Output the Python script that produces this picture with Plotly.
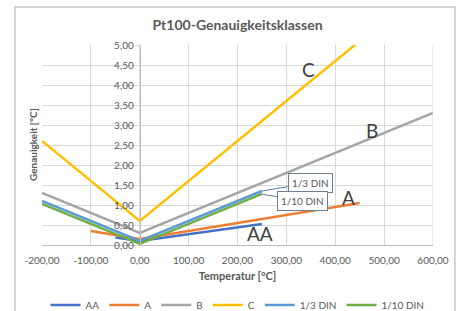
import plotly.graph_objects as go

# ---- data ----
series_names = ["AA", "A", "B", "C", "1/3 DIN", "1/10 DIN"]
aa_t = [-50, 0, 250]
aa_v = [0.185, 0.10, 0.525]
a_t = [-100, 0, 450]
a_v = [0.35, 0.15, 1.05]
b_t = [-200, 0, 600]
b_v = [1.30, 0.30, 3.30]
c_t = [-200, 0, 600]
c_v = [2.60, 0.60, 6.60]
din3_t = [-200, 0, 250]
din3_v = [1.10, 0.10, 1.35]
din10_t = [-200, 0, 250]
din10_v = [1.03, 0.03, 1.28]

x_ticks = [-200, -100, 0, 100, 200, 300, 400, 500, 600]
x_ticklabels = ["-200,00", "-100,00", "0,00", "100,00", "200,00", "300,00", "400,00", "500,00", "600,00"]
y_ticks = [0, 0.5, 1.0, 1.5, 2.0, 2.5, 3.0, 3.5, 4.0, 4.5, 5.0]
y_ticklabels = ["0,00", "0,50", "1,00", "1,50", "2,00", "2,50", "3,00", "3,50", "4,00", "4,50", "5,00"]

colors = ["#4472C4", "#ED7D31", "#A5A5A5", "#FFC000", "#5B9BD5", "#70AD47"]
xs = [aa_t, a_t, b_t, c_t, din3_t, din10_t]
ys = [aa_v, a_v, b_v, c_v, din3_v, din10_v]

fig = go.Figure()
for name, x, y, col in zip(series_names, xs, ys, colors):
    fig.add_trace(go.Scatter(x=x, y=y, mode="lines", name=name,
                             line=dict(color=col, width=2.5)))

txt = "#595959"
grid = "#D9D9D9"
font_fam = "Lato, 'Liberation Sans', sans-serif"

fig.update_layout(
    width=460, height=311,
    margin=dict(l=42, r=27, t=45, b=66, autoexpand=False),
    paper_bgcolor="white", plot_bgcolor="white",
    separators=",.",
    font=dict(family=font_fam, size=10, color=txt),
    title=dict(text="<b>Pt100-Genauigkeitsklassen</b>", x=0.5, xanchor="center",
               xref="paper", y=0.92, yanchor="middle",
               font=dict(size=14, color=txt, family=font_fam)),
    showlegend=True,
    legend=dict(orientation="h", x=0.5, xanchor="center", y=-0.3, yanchor="middle",
                font=dict(size=10, color=txt), itemwidth=30, tracegroupgap=0,
                bgcolor="rgba(0,0,0,0)"),
    xaxis=dict(range=[-200, 600], tickvals=x_ticks, ticktext=x_ticklabels,
               showgrid=True, gridcolor=grid, gridwidth=1,
               zeroline=False, showline=True, linecolor="#BFBFBF",
               mirror=False, ticks="outside", ticklen=6, tickcolor="rgba(0,0,0,0)",
               tickfont=dict(size=10, color=txt),
               title=dict(text="<b>Temperatur [°C]</b>", standoff=7,
                          font=dict(size=11, color=txt))),
    yaxis=dict(range=[0, 5], tickvals=y_ticks, ticktext=y_ticklabels,
               showgrid=True, gridcolor=grid, gridwidth=1,
               zeroline=False, showline=True, linecolor="#BFBFBF",
               anchor="free", position=0.25, ticks="outside", ticklen=4,
               tickcolor=grid, tickfont=dict(size=10, color=txt)),
)

# right border of plot area
fig.add_shape(type="line", xref="x", yref="y", x0=600, x1=600, y0=0, y1=5,
              line=dict(color=grid, width=1))

# outer chart border
fig.add_shape(type="rect", xref="paper", yref="paper",
              x0=-0.069, x1=1.056, y0=-0.5, y1=1.19,
              line=dict(color="#C8C8C8", width=1.5), layer="below")

# y axis title
fig.add_annotation(text="<b>Genauigkeit [°C]</b>", xref="paper", yref="paper",
                   x=-0.023, y=0.5, xanchor="center", yanchor="middle",
                   textangle=-90, showarrow=False,
                   font=dict(size=10, color=txt))

# class labels
lab_font = dict(size=19, color="#404040", family=font_fam)
for t, xv, yv in [("C", 345, 4.4), ("B", 476, 2.86), ("A", 428, 1.2), ("AA", 247, 0.3)]:
    fig.add_annotation(text=t, x=xv, y=yv, xref="x", yref="y", showarrow=False, font=lab_font)

# callouts
for t, x0, y0, ax, ay in [("1/3 DIN", 250, 1.35, 349, 1.55), ("1/10 DIN", 250, 1.27, 333, 1.10)]:
    fig.add_annotation(text=t, x=x0, y=y0, ax=ax, ay=ay, xref="x", yref="y",
                       axref="x", ayref="y", showarrow=True, arrowhead=0,
                       arrowwidth=1, arrowcolor="#5B7FA6",
                       bordercolor="#6F7F8F", borderwidth=1, borderpad=3,
                       bgcolor="white", font=dict(size=10, color=txt))

fig.write_html("out.html", config={"displayModeBar": False},
               post_script="document.body.style.margin='0';")
